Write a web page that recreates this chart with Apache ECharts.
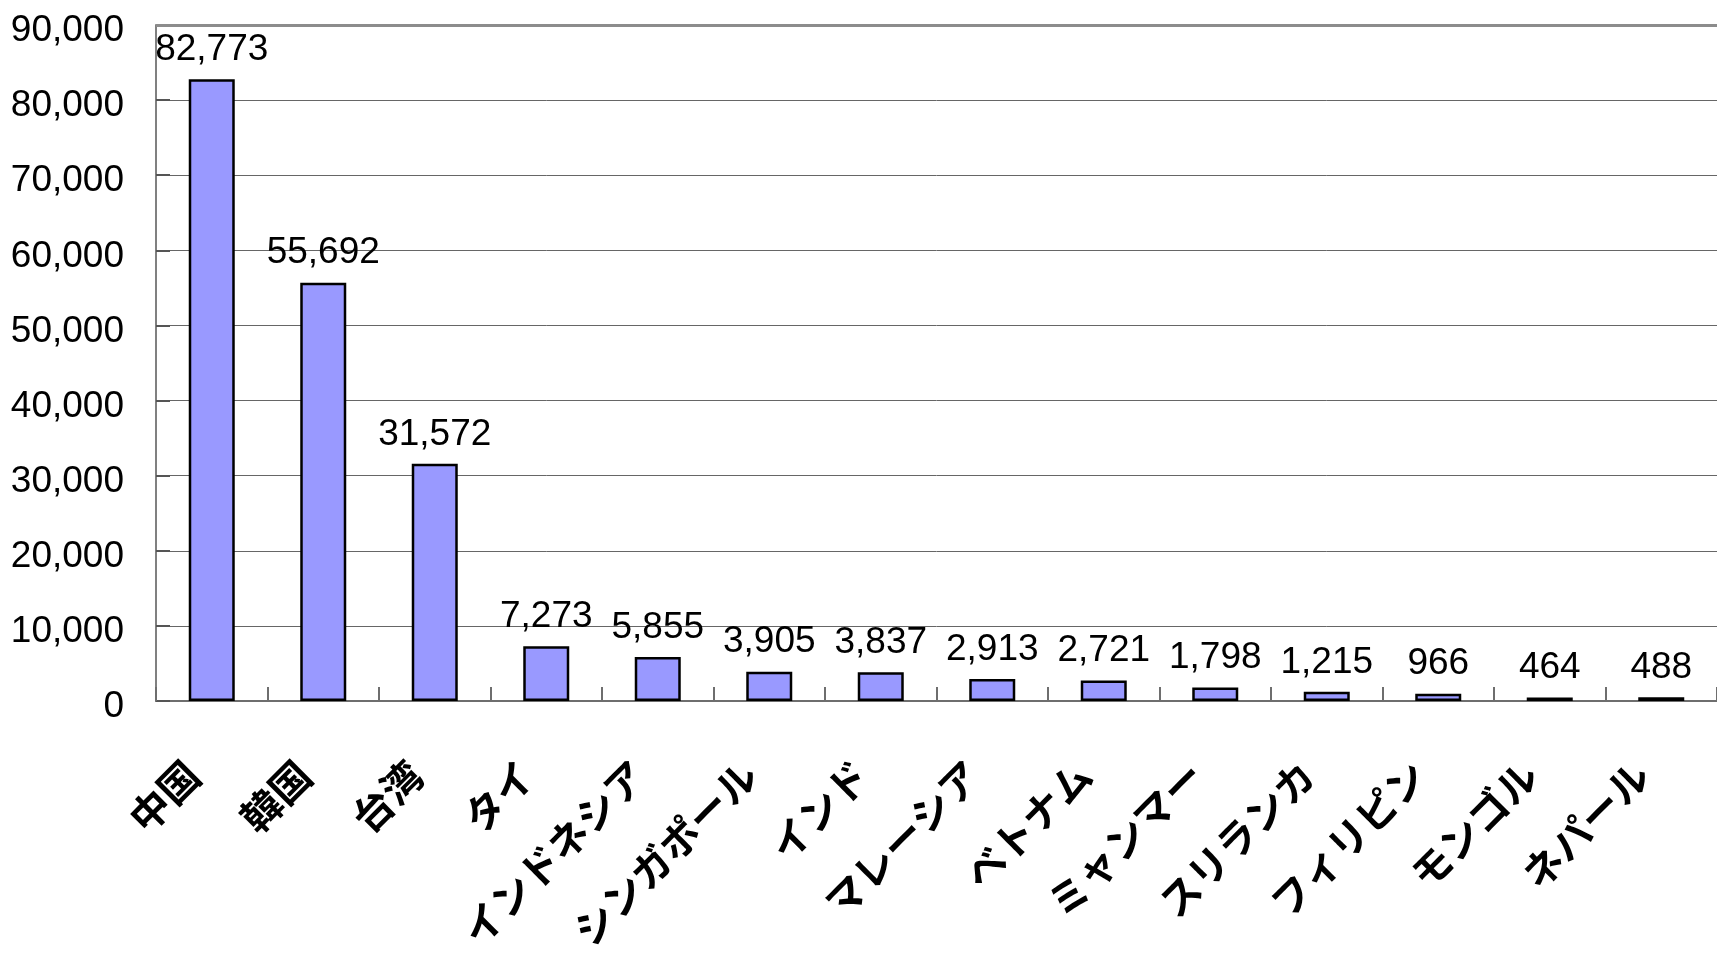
<!DOCTYPE html>
<html>
<head>
<meta charset="utf-8">
<script src="https://cdn.jsdelivr.net/npm/echarts@6/dist/echarts.min.js"></script>
<style>
  html, body { margin: 0; padding: 0; background: #fff; }
  #chart { width: 1717px; height: 959px; }
</style>
</head>
<body>
<div id="chart"></div>
<script>
// Countries / regions along the category axis
const categories = ['中国', '韓国', '台湾', 'タイ', 'インドネシア', 'シンガポール', 'インド',
  'マレーシア', 'ベトナム', 'ミャンマー', 'スリランカ', 'フィリピン', 'モンゴル', 'ネパール'];
// Value per country
const values = [82773, 55692, 31572, 7273, 5855, 3905, 3837, 2913, 2721, 1798, 1215, 966, 464, 488];
// Value axis range
const yMin = 0;
const yMax = 90000;
const yStep = 10000;

const chart = echarts.init(document.getElementById('chart'), null, { renderer: 'canvas' });

const numFont = '"Liberation Sans", Arial, sans-serif';

chart.setOption({
  animation: false,
  backgroundColor: '#ffffff',
  grid: { left: 156, top: 25, right: 0, bottom: 258, containLabel: false, outerBoundsMode: 'none' },
  xAxis: {
    type: 'category',
    data: categories,
    boundaryGap: true,
    axisLine: { show: true, lineStyle: { color: '#6e6e6e', width: 2 } },
    axisTick: { show: true, inside: true, length: 14, alignWithLabel: false, lineStyle: { color: '#6e6e6e', width: 2 } },
    axisLabel: {
      interval: 0,
      rotate: 45,
      margin: 48,
      padding: [0, 27, 0, 0],
      color: '#000',
      fontSize: 40,
      fontWeight: 'bold',
      fontFamily: 'Noto Sans CJK JP, sans-serif'
    },
    splitLine: { show: false }
  },
  yAxis: {
    type: 'value',
    min: yMin,
    max: yMax,
    interval: yStep,
    axisLine: { show: true, lineStyle: { color: '#808080', width: 2 } },
    axisTick: { show: true, inside: true, length: 14, lineStyle: { color: '#555', width: 2 } },
    axisLabel: {
      margin: 32,
      color: '#000',
      fontSize: 37,
      fontFamily: numFont,
      formatter: v => '{n|' + v.toLocaleString('en-US') + '}',
      rich: {
        n: { fontSize: 37, fontFamily: numFont, color: '#000', padding: [12, 0, 0, 0] }
      }
    },
    splitLine: { show: true, lineStyle: { color: '#666', width: 1 } }
  },
  series: [{
    type: 'bar',
    data: values,
    barWidth: 46,
    itemStyle: { color: '#9999ff', borderColor: '#000', borderWidth: 2.5 },
    label: {
      show: true,
      position: 'top',
      distance: 11,
      color: '#000',
      fontSize: 37,
      fontFamily: numFont,
      formatter: p => p.value.toLocaleString('en-US')
    },
    markLine: {
      silent: true,
      symbol: 'none',
      label: { show: false },
      lineStyle: { color: '#8c8c8c', width: 3, type: 'solid' },
      data: [{ yAxis: yMax }]
    }
  }]
});
</script>
</body>
</html>
